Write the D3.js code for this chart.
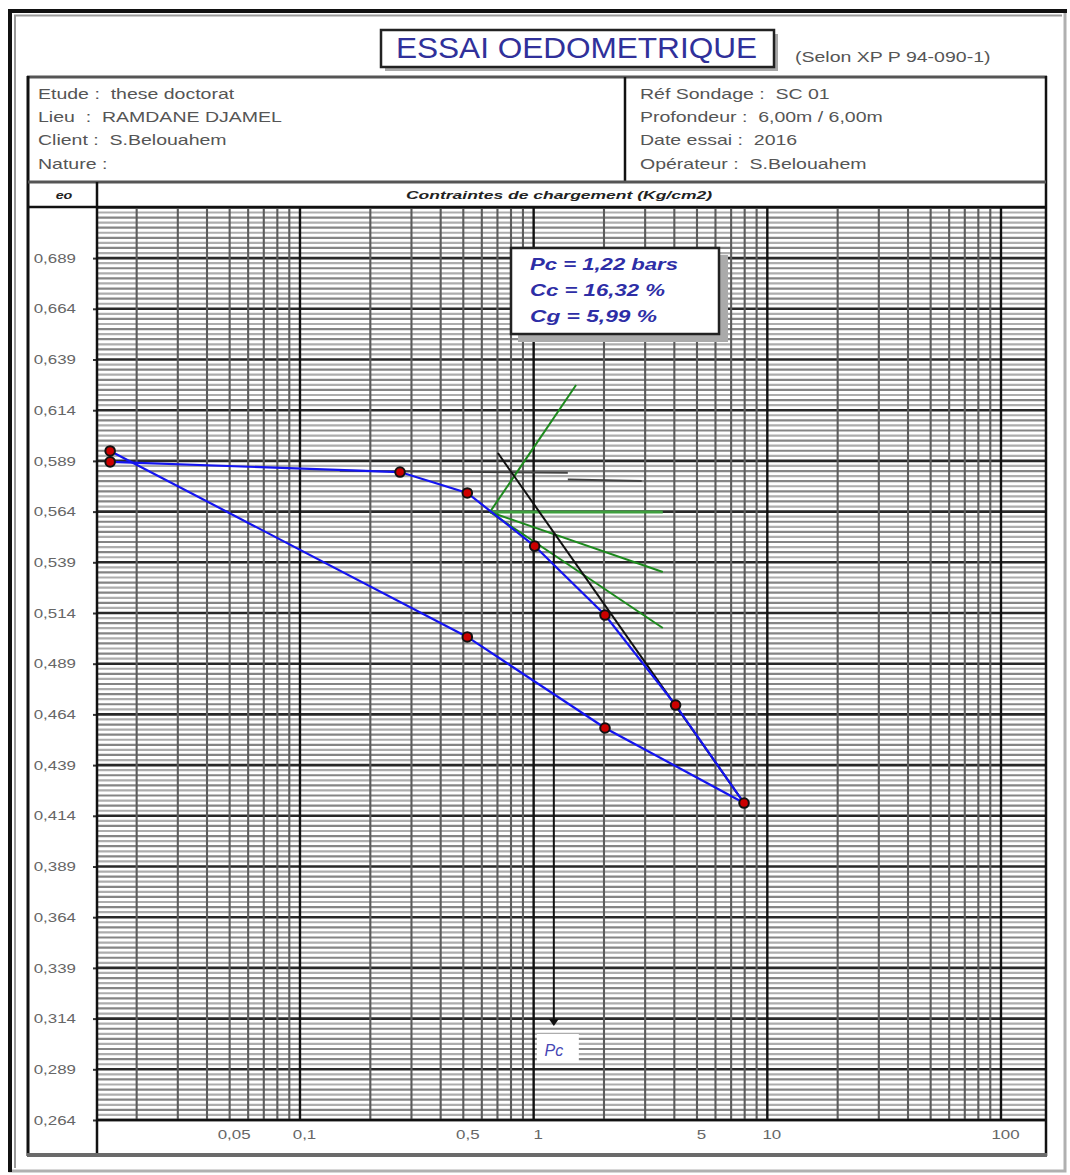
<!DOCTYPE html>
<html><head><meta charset="utf-8">
<script src="https://cdn.jsdelivr.net/npm/d3@7"></script>
<style>body{margin:0;background:#fff;} svg{display:block;font-family:"Liberation Sans",Arial,sans-serif;}</style>
</head><body>
<svg id="chart" width="1070" height="1175"></svg>
<script>
// ---------------- DATA ----------------
const loadStress   = [0.0154, 0.268, 0.52, 1.01, 2.02, 4.05, 7.95];
const loadVoid     = [0.5885, 0.5835, 0.5732, 0.5470, 0.5130, 0.4686, 0.4203];
const unloadStress = [7.95, 2.02, 0.52, 0.0154];
const unloadVoid   = [0.4203, 0.4573, 0.5022, 0.5939];
const ccLineStress = [0.703, 7.95];
const ccLineVoid   = [0.5929, 0.4203];
const refSegAStress = [0.148, 1.40];
const refSegAVoid   = [0.5842, 0.5832];
const refSegBStress = [1.40, 2.90];
const refSegBVoid   = [0.5798, 0.5791];
const greenOriginStress = 0.650;
const greenOriginVoid   = 0.5638;
const greenEndStress = [1.519, 3.57, 3.57, 3.57];
const greenEndVoid   = [0.6264, 0.5638, 0.5342, 0.5066];
const pcValue = 1.22;
const pcLineVoid = [0.5530, 0.3123];
const xTickValues = [0.05, 0.1, 0.5, 1, 5, 10, 100];
const xTickLabels = ["0,05", "0,1", "0,5", "1", "5", "10", "100"];
const yTickValues = [0.264, 0.289, 0.314, 0.339, 0.364, 0.389, 0.414, 0.439, 0.464, 0.489, 0.514, 0.539, 0.564, 0.589, 0.614, 0.639, 0.664, 0.689];
const yTickLabels = ["0,264","0,289","0,314","0,339","0,364","0,389","0,414","0,439","0,464","0,489","0,514","0,539","0,564","0,589","0,614","0,639","0,664","0,689"];
const titleText = "ESSAI OEDOMETRIQUE";
const normText = "(Selon XP P 94-090-1)";
const infoLeft  = ["Etude :  these doctorat", "Lieu  :  RAMDANE DJAMEL", "Client :  S.Belouahem", "Nature :"];
const infoRight = ["Réf Sondage :  SC 01", "Profondeur :  6,00m / 6,00m", "Date essai :  2016", "Opérateur :  S.Belouahem"];
const resultLines = ["Pc = 1,22 bars", "Cc = 16,32 %", "Cg = 5,99 %"];
const yHeader = "eo";
const xHeader = "Contraintes de chargement (Kg/cm2)";
const pcLabel = "Pc";

// ---------------- LAYOUT ----------------
const svg = d3.select("#chart");
const P = {left: 97, right: 1045, top: 207, bottom: 1120};
const STRETCH = 1.3;

const x = d3.scaleLog().domain([0.01353, 154.3]).range([P.left, P.right]);
const y = d3.scaleLinear().domain([0.264, 0.7142]).range([P.bottom, P.top]);

function ln(x1, y1, x2, y2, col, w) {
  svg.append("line").attr("x1", x1).attr("y1", y1).attr("x2", x2).attr("y2", y2)
    .attr("stroke", col).attr("stroke-width", w);
}
function stretch(sel, f) {
  sel.each(function () {
    const n = this.getComputedTextLength();
    if (n > 0) d3.select(this).attr("textLength", n * f).attr("lengthAdjust", "spacingAndGlyphs");
  });
}

// outer frame
svg.append("rect").attr("x", 10).attr("y", 11).attr("width", 1055).attr("height", 1160)
  .attr("fill", "none").attr("stroke", "#b0b0b0").attr("stroke-width", 3);
ln(8, 11, 1067, 11, "#111", 4);
ln(10, 9, 10, 1172, "#111", 4);
ln(14, 15.5, 1062, 15.5, "#9a9a9a", 2);
ln(15, 15, 15, 1168, "#9a9a9a", 2);

// title box
svg.append("rect").attr("x", 385).attr("y", 34).attr("width", 393).attr("height", 37).attr("fill", "#a8a8a8");
svg.append("rect").attr("x", 381).attr("y", 30).attr("width", 393).attr("height", 37)
  .attr("fill", "#fff").attr("stroke", "#222").attr("stroke-width", 2.5);
svg.append("text").attr("x", 396).attr("y", 58).attr("font-size", 30).attr("fill", "#30309a")
  .attr("textLength", 361).attr("lengthAdjust", "spacingAndGlyphs").text(titleText);
stretch(svg.append("text").attr("x", 795).attr("y", 62).attr("font-size", 15).attr("fill", "#555").text(normText), STRETCH);

// info texts
const infoY = [99, 122, 145, 169];
stretch(svg.selectAll(".il").data(infoLeft).join("text").attr("class", "il")
  .attr("x", 38).attr("y", (d, i) => infoY[i]).attr("font-size", 15).attr("fill", "#555")
  .style("white-space", "pre").text(d => d), STRETCH);
stretch(svg.selectAll(".ir").data(infoRight).join("text").attr("class", "ir")
  .attr("x", 640).attr("y", (d, i) => infoY[i]).attr("font-size", 15).attr("fill", "#555")
  .style("white-space", "pre").text(d => d), STRETCH);

// header row texts
stretch(svg.append("text").attr("x", 64).attr("y", 199).attr("text-anchor", "middle")
  .attr("font-size", 11).attr("font-weight", "bold").attr("font-style", "italic").attr("fill", "#222").text(yHeader), STRETCH);
svg.append("text").attr("x", 406).attr("y", 199)
  .attr("font-size", 11.5).attr("font-weight", "bold").attr("font-style", "italic").attr("fill", "#222")
  .attr("textLength", 306).attr("lengthAdjust", "spacingAndGlyphs").text(xHeader);

// ---------------- GRID ----------------
const g = svg.append("g");
const minorY = d3.range(0, 181).map(i => 0.264 + i * 0.0025).filter(v => v <= 0.7142);
g.append("g").selectAll("line").data(minorY).join("line")
  .attr("x1", P.left).attr("x2", P.right)
  .attr("y1", d => y(d)).attr("y2", d => y(d))
  .attr("stroke", (d, i) => i % 10 === 0 ? "#2a2a2a" : (i % 2 === 0 ? "#858585" : "#adadad"))
  .attr("stroke-width", (d, i) => i % 10 === 0 ? 2.6 : 2.2);

const vGrid = [];
[-2, -1, 0, 1].forEach(k => { for (let m = 1; m <= 9; m++) { const v = m * Math.pow(10, k); if (v >= 0.0199) vGrid.push({v, major: m === 1}); } });
vGrid.push({v: 100, major: true});
g.append("g").selectAll("line").data(vGrid).join("line")
  .attr("x1", d => x(d.v)).attr("x2", d => x(d.v)).attr("y1", P.top).attr("y2", P.bottom)
  .attr("stroke", d => d.major ? "#111" : "#5c5c5c").attr("stroke-width", d => d.major ? 2.4 : 2.1);

// y axis labels
const yAxis = d3.axisLeft(y).tickValues(yTickValues).tickSize(4).tickPadding(17)
  .tickFormat((d, i) => yTickLabels[i]);
const ya = svg.append("g").attr("transform", `translate(${P.left},0)`).call(yAxis);
ya.select(".domain").remove();
ya.selectAll(".tick line").attr("stroke", "#333").attr("stroke-width", 2);
ya.selectAll("text").attr("font-size", 13).attr("fill", "#666").attr("font-family", "Liberation Sans, Arial, sans-serif");
stretch(ya.selectAll("text"), STRETCH);

// x axis labels
const xAxis = d3.axisBottom(x).tickValues(xTickValues).tickSize(0).tickPadding(10)
  .tickFormat((d, i) => xTickLabels[i]);
const xa = svg.append("g").attr("transform", `translate(4,${P.bottom})`).call(xAxis);
xa.select(".domain").remove();
xa.selectAll("text").attr("font-size", 13).attr("fill", "#666").attr("font-family", "Liberation Sans, Arial, sans-serif");
stretch(xa.selectAll("text"), STRETCH);

// frame lines of the form
ln(27, 77, 1047, 77, "#555", 3);
ln(28, 76, 28, 1156, "#111", 3);
ln(1046, 76, 1046, 1156, "#111", 2.5);
ln(625, 77, 625, 182, "#111", 2.5);
ln(28, 182, 1046, 182, "#555", 3);
ln(28, 207, 1046, 207, "#111", 2.5);
ln(97, 182, 97, 1156, "#111", 2.5);
ln(97, 1120, 1046, 1120, "#111", 2.5);
ln(27, 1155, 1047, 1155, "#6a6a6a", 4);

// ---------------- RESULTS BOX ----------------
svg.append("rect").attr("x", 518).attr("y", 255).attr("width", 210).attr("height", 87).attr("fill", "#aaa");
svg.append("rect").attr("x", 511).attr("y", 248).attr("width", 208).attr("height", 86)
  .attr("fill", "#fff").attr("stroke", "#222").attr("stroke-width", 2.5);
const resW = [148, 135, 127];
svg.selectAll(".res").data(resultLines).join("text").attr("class", "res")
  .attr("x", 530).attr("y", (d, i) => 270 + i * 26)
  .attr("font-size", 17).attr("font-weight", "bold").attr("font-style", "italic").attr("fill", "#2e2ea6")
  .attr("textLength", (d, i) => resW[i]).attr("lengthAdjust", "spacingAndGlyphs").text(d => d);

// ---------------- CONSTRUCTION LINES ----------------
const lineGen = d3.line().x(d => x(d[0])).y(d => y(d[1]));
[[refSegAStress, refSegAVoid], [refSegBStress, refSegBVoid]].forEach(([s, v]) => {
  svg.append("path").attr("d", lineGen(s.map((d, i) => [d, v[i]])))
    .attr("fill", "none").attr("stroke", "#444").attr("stroke-width", 2);
});
greenEndStress.forEach((s, i) => {
  svg.append("path").attr("d", lineGen([[greenOriginStress, greenOriginVoid], [s, greenEndVoid[i]]]))
    .attr("fill", "none").attr("stroke", i === 1 ? "#3f9f3f" : "#1d8a1d").attr("stroke-width", i === 1 ? 3 : 2);
});
svg.append("path").attr("d", lineGen(ccLineStress.map((s, i) => [s, ccLineVoid[i]])))
  .attr("fill", "none").attr("stroke", "#111").attr("stroke-width", 2);

// Pc arrow
svg.append("line").attr("x1", x(pcValue)).attr("x2", x(pcValue))
  .attr("y1", y(pcLineVoid[0])).attr("y2", y(pcLineVoid[1]))
  .attr("stroke", "#111").attr("stroke-width", 2);
svg.append("path").attr("d", `M${x(pcValue) - 5},${y(pcLineVoid[1]) - 3} L${x(pcValue) + 5},${y(pcLineVoid[1]) - 3} L${x(pcValue)},${y(pcLineVoid[1]) + 4} Z`).attr("fill", "#111");
svg.append("rect").attr("x", x(pcValue) - 17).attr("y", 1034).attr("width", 42).attr("height", 29).attr("fill", "#fff");
svg.append("text").attr("x", x(pcValue)).attr("y", 1056).attr("text-anchor", "middle")
  .attr("font-size", 16).attr("font-style", "italic").attr("fill", "#4646b4").text(pcLabel);

// ---------------- DATA CURVES ----------------
svg.append("path").attr("d", lineGen(loadStress.map((s, i) => [s, loadVoid[i]])))
  .attr("fill", "none").attr("stroke", "#1414f0").attr("stroke-width", 2.2);
svg.append("path").attr("d", lineGen(unloadStress.map((s, i) => [s, unloadVoid[i]])))
  .attr("fill", "none").attr("stroke", "#1414f0").attr("stroke-width", 2.2);

const pts = loadStress.map((s, i) => [s, loadVoid[i]]).concat(unloadStress.slice(1).map((s, i) => [s, unloadVoid[i + 1]]));
svg.selectAll(".pt").data(pts).join("circle").attr("class", "pt")
  .attr("cx", d => x(d[0])).attr("cy", d => y(d[1])).attr("r", 4.8)
  .attr("fill", "#cc0000").attr("stroke", "#111").attr("stroke-width", 2);
</script>
</body></html>
